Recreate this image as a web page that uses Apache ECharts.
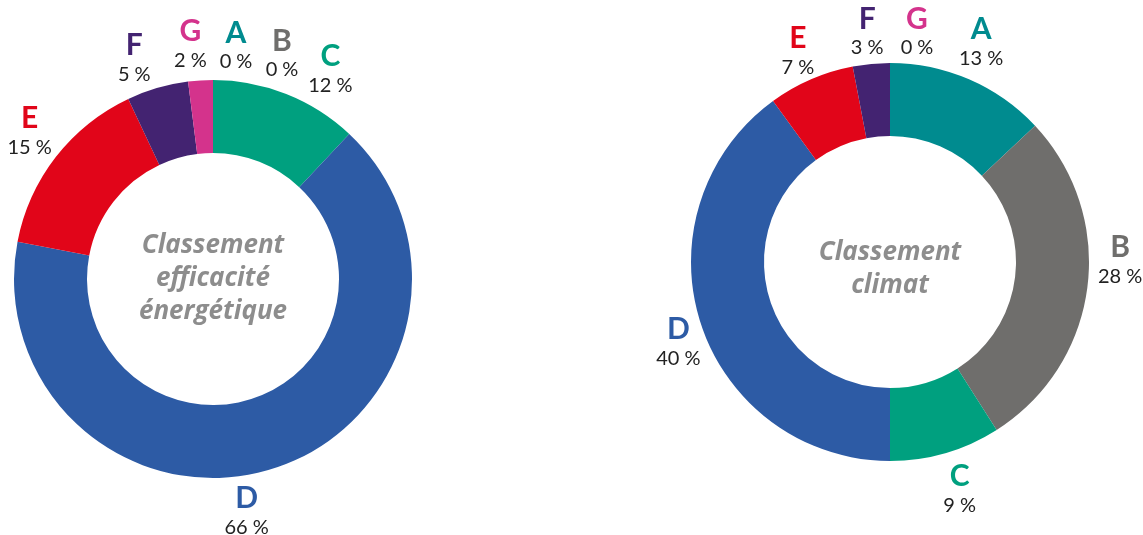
<!DOCTYPE html>
<html>
<head>
<meta charset="utf-8">
<script src="https://cdn.jsdelivr.net/npm/echarts@6/dist/echarts.min.js"></script>
<style>
  html, body { margin: 0; padding: 0; background: #fff; }
  #chart { width: 1143px; height: 535px; }
</style>
</head>
<body>
<div id="chart"></div>
<script>
// classes, same order for both rings (clockwise from 12 o'clock)
var classes = ['A', 'B', 'C', 'D', 'E', 'F', 'G'];
var energyValues = [0, 0, 12, 66, 15, 5, 2];   // classement efficacité énergétique (%)
var climateValues = [13, 28, 9, 40, 7, 3, 0];  // classement climat (%)
var energyTitle = 'Classement\nefficacité\nénergétique';
var climateTitle = 'Classement\nclimat';

var classColors = ['#008B8F', '#6F6E6C', '#00A07F', '#2D5BA5', '#E10519', '#432371', '#D4338C'];

// label nudges (px) so the small slices don't pile up at the top
var energyNudge = [[23, 0], [69, 8], [32, 7], [-38, 13], [0, -4], [-14, 3], [-8, -2]];
var climateNudge = [[-1, -6], [0, -30], [5, 6], [9, 10], [0, 3], [-1, 2], [27, 3]];

var leftCenter = [213, 279];
var rightCenter = [890, 262];

const myChart = echarts.init(document.getElementById('chart'));

function buildData(values) {
  return values.map(function (v, i) {
    return { name: classes[i], value: v, itemStyle: { color: classColors[i] } };
  });
}

// one rich style per class letter so each letter takes its class colour
var richStyles = {
  p: { fontFamily: 'Lato', fontSize: 20, color: '#222222', lineHeight: 28 }
};
classes.forEach(function (c, i) {
  richStyles[c] = { fontFamily: 'Lato', fontSize: 30, fontWeight: 'bold', color: classColors[i], lineHeight: 30 };
});

function makeSeries(values, center, nudge) {
  return {
    type: 'pie',
    center: center,
    radius: [126, 199],
    startAngle: 90,
    clockwise: true,
    avoidLabelOverlap: false,
    silent: true,
    itemStyle: { borderWidth: 0 },
    label: {
      show: true,
      position: 'outside',
      formatter: function (p) {
        return '{' + p.name + '|' + p.name + '}\n{p|' + p.value + ' %}';
      },
      rich: richStyles
    },
    labelLine: { show: true, length: 33, length2: 4, lineStyle: { opacity: 0 } },
    labelLayout: function (params) {
      var pts = params.labelLinePoints;
      var n = nudge[params.dataIndex];
      return {
        x: pts[1][0] + n[0],
        y: pts[1][1] + n[1],
        align: 'center',
        verticalAlign: 'middle'
      };
    },
    data: buildData(values)
  };
}

function centerText(text, x, y) {
  return {
    type: 'text',
    x: x,
    y: y,
    style: {
      text: text,
      align: 'center',
      verticalAlign: 'middle',
      fontFamily: 'Open Sans',
      fontSize: 26,
      fontStyle: 'italic',
      fontWeight: 'bold',
      lineHeight: 33,
      fill: '#8D8D8D'
    }
  };
}

var option = {
  backgroundColor: '#ffffff',
  animation: false,
  graphic: [
    centerText(energyTitle, leftCenter[0], leftCenter[1]),
    centerText(climateTitle, rightCenter[0], rightCenter[1] + 7)
  ],
  series: [
    makeSeries(energyValues, leftCenter, energyNudge),
    makeSeries(climateValues, rightCenter, climateNudge)
  ]
};
myChart.setOption(option);
</script>
</body>
</html>
